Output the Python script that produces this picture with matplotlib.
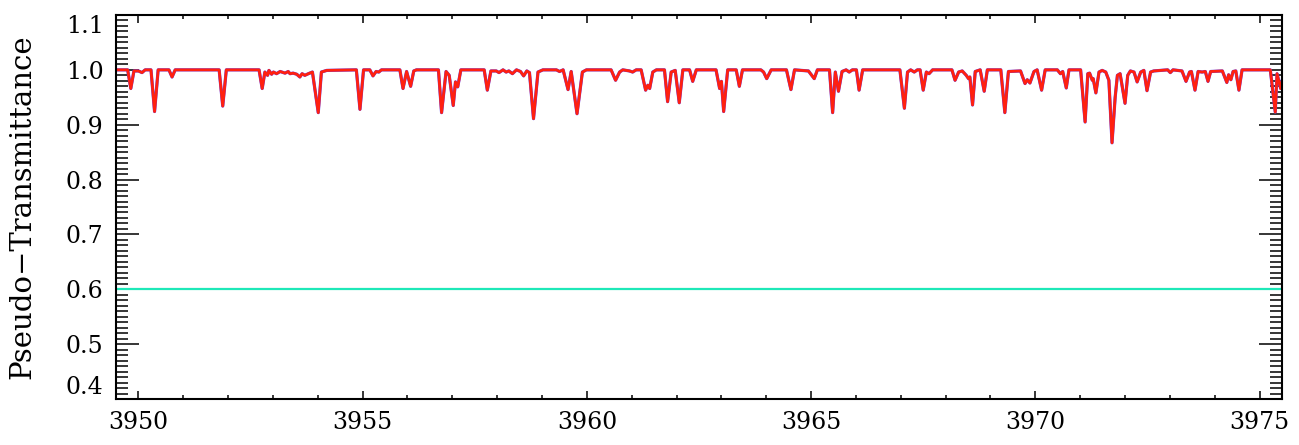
import matplotlib
matplotlib.use('Agg')
from matplotlib import pyplot as plt
from matplotlib.ticker import MultipleLocator, FormatStrFormatter

# spectrum: wavelength (A) and pseudo-transmittance
wl = [3949.50, 3949.76, 3949.83, 3949.90, 3950.00, 3950.08, 3950.15, 3950.28, 3950.36, 3950.44,
      3950.68, 3950.75, 3950.82, 3951.80, 3951.88, 3951.96, 3952.69, 3952.76, 3952.82, 3952.88,
      3952.91, 3952.97, 3953.01, 3953.08, 3953.16, 3953.27, 3953.34, 3953.38, 3953.45, 3953.53,
      3953.60, 3953.65, 3953.71, 3953.79, 3953.88, 3954.01, 3954.08, 3954.20, 3954.86, 3954.94,
      3955.02, 3955.16, 3955.23, 3955.30, 3955.36, 3955.42, 3955.83, 3955.90, 3955.98, 3956.07,
      3956.14, 3956.20, 3956.69, 3956.76, 3956.86, 3956.93, 3957.02, 3957.07, 3957.12, 3957.19,
      3957.71, 3957.78, 3957.86, 3957.98, 3958.04, 3958.13, 3958.20, 3958.26, 3958.34, 3958.43,
      3958.52, 3958.59, 3958.66, 3958.72, 3958.81, 3958.91, 3959.02, 3959.32, 3959.39, 3959.47,
      3959.58, 3959.65, 3959.78, 3959.90, 3959.99, 3960.54, 3960.64, 3960.73, 3960.80, 3960.95,
      3961.02, 3961.10, 3961.21, 3961.31, 3961.36, 3961.40, 3961.47, 3961.55, 3961.73, 3961.80,
      3961.88, 3961.97, 3962.06, 3962.14, 3962.29, 3962.36, 3962.44, 3962.88, 3962.96, 3963.00,
      3963.05, 3963.14, 3963.33, 3963.40, 3963.47, 3963.88, 3963.94, 3964.01, 3964.11, 3964.45,
      3964.55, 3964.63, 3964.94, 3965.07, 3965.14, 3965.41, 3965.48, 3965.54, 3965.61, 3965.69,
      3965.78, 3965.85, 3965.92, 3966.01, 3966.07, 3966.15, 3966.98, 3967.08, 3967.15, 3967.22,
      3967.30, 3967.37, 3967.43, 3967.50, 3967.57, 3967.63, 3967.71, 3968.14, 3968.21, 3968.29,
      3968.37, 3968.46, 3968.51, 3968.54, 3968.60, 3968.66, 3968.77, 3968.86, 3968.93, 3969.23,
      3969.32, 3969.40, 3969.67, 3969.77, 3969.82, 3969.88, 3969.97, 3970.04, 3970.14, 3970.22,
      3970.49, 3970.56, 3970.61, 3970.69, 3970.75, 3971.01, 3971.11, 3971.17, 3971.21, 3971.27,
      3971.29, 3971.35, 3971.42, 3971.49, 3971.57, 3971.64, 3971.71, 3971.78, 3971.83, 3971.89,
      3972.00, 3972.06, 3972.12, 3972.20, 3972.27, 3972.35, 3972.42, 3972.49, 3972.57, 3972.64,
      3972.95, 3973.01, 3973.07, 3973.27, 3973.36, 3973.44, 3973.48, 3973.56, 3973.63, 3973.72,
      3973.79, 3973.85, 3973.91, 3974.17, 3974.27, 3974.31, 3974.36, 3974.41, 3974.47, 3974.54,
      3974.61, 3975.24, 3975.35, 3975.39, 3975.47, 3975.55]
trans = [1.000, 1.000, 0.966, 0.998, 0.998, 0.995, 1.000, 1.000, 0.924, 1.000,
         1.000, 0.987, 1.000, 1.000, 0.934, 1.000, 1.000, 0.966, 0.996, 0.990,
         0.999, 0.992, 0.996, 0.993, 0.997, 0.994, 0.997, 0.993, 0.994, 0.992,
         0.987, 0.993, 0.990, 0.993, 0.996, 0.922, 0.996, 0.999, 1.000, 0.928,
         1.000, 1.000, 0.989, 0.997, 0.996, 1.000, 1.000, 0.966, 0.997, 0.970,
         0.998, 1.000, 1.000, 0.922, 0.997, 0.990, 0.935, 0.978, 0.969, 1.000,
         1.000, 0.963, 0.998, 0.998, 0.995, 1.000, 0.996, 0.998, 0.993, 1.000,
         0.997, 0.989, 0.998, 0.995, 0.911, 0.996, 1.000, 1.000, 0.997, 1.000,
         0.964, 0.997, 0.920, 0.996, 1.000, 1.000, 0.981, 0.996, 1.000, 0.998,
         0.996, 1.000, 1.000, 0.963, 0.972, 0.966, 0.996, 1.000, 1.000, 0.942,
         0.996, 0.999, 0.940, 1.000, 1.000, 0.979, 1.000, 1.000, 0.966, 0.979,
         0.924, 1.000, 1.000, 0.970, 1.000, 1.000, 0.996, 0.984, 1.000, 1.000,
         0.964, 1.000, 0.998, 0.984, 1.000, 1.000, 0.922, 0.996, 0.961, 0.997,
         1.000, 0.996, 1.000, 1.000, 0.963, 1.000, 1.000, 0.930, 0.996, 1.000,
         0.996, 1.000, 1.000, 0.963, 0.996, 0.993, 1.000, 1.000, 0.981, 0.996,
         0.998, 0.990, 0.984, 0.987, 0.936, 0.997, 1.000, 0.961, 1.000, 1.000,
         0.922, 0.997, 0.998, 0.975, 0.982, 0.976, 0.997, 1.000, 0.963, 1.000,
         1.000, 0.993, 0.997, 0.967, 1.000, 1.000, 0.905, 0.993, 0.994, 0.981,
         0.984, 0.958, 0.996, 0.999, 0.996, 0.981, 0.867, 0.950, 0.990, 0.993,
         0.939, 0.990, 0.998, 0.996, 0.978, 0.996, 0.999, 0.962, 0.996, 0.998,
         1.000, 0.995, 1.000, 0.998, 0.979, 0.996, 0.997, 0.963, 0.997, 0.996,
         0.997, 0.979, 0.997, 0.998, 0.977, 0.991, 0.982, 0.997, 0.998, 0.963,
         1.000, 1.000, 0.923, 0.993, 0.966, 1.000]
level = 0.6

plt.rcParams['font.family'] = ['DejaVu Serif']

fig = plt.figure(figsize=(12.99, 4.45), dpi=100)
ax = fig.add_axes([0.0893, 0.1034, 0.8976, 0.8629])

ax.plot(wl, trans, color='#6040f0', lw=2.3, solid_joinstyle='round')
ax.plot(wl, trans, color='#ff2010', lw=2.0, solid_joinstyle='round')
ax.axhline(level, color='#1ee8b8', lw=1.6)

ax.set_xlim(3949.5, 3975.5)
ax.set_ylim(0.4, 1.1)
ax.set_axisbelow(True)

ax.xaxis.set_major_locator(MultipleLocator(5))
ax.xaxis.set_minor_locator(MultipleLocator(1))
ax.yaxis.set_major_locator(MultipleLocator(0.1))
ax.yaxis.set_minor_locator(MultipleLocator(0.01))
ax.yaxis.set_major_formatter(FormatStrFormatter('%.1f'))

ax.tick_params(axis='both', which='both', direction='in', top=True, right=True,
               width=1.1, colors='black', labelsize=17)
ax.tick_params(axis='x', which='major', length=5.5, pad=9)
ax.tick_params(axis='x', which='minor', length=2.8)
ax.tick_params(axis='y', which='major', length=16.6, pad=9)
ax.tick_params(axis='y', which='minor', length=8.3)
for s in ax.spines.values():
    s.set_linewidth(1.5)

ax.set_ylabel('Pseudo\u2212Transmittance', fontsize=21)
ax.yaxis.set_label_coords(-0.068, 0.5)

# IDL-style: keep the end labels inside the axis span
fig.canvas.draw()
for t in ax.yaxis.get_major_ticks():
    if abs(t.get_loc() - 0.4) < 1e-6:
        t.label1.set_va('bottom')
    elif abs(t.get_loc() - 1.1) < 1e-6:
        t.label1.set_va('top')

plt.savefig('out.png', dpi=100)
